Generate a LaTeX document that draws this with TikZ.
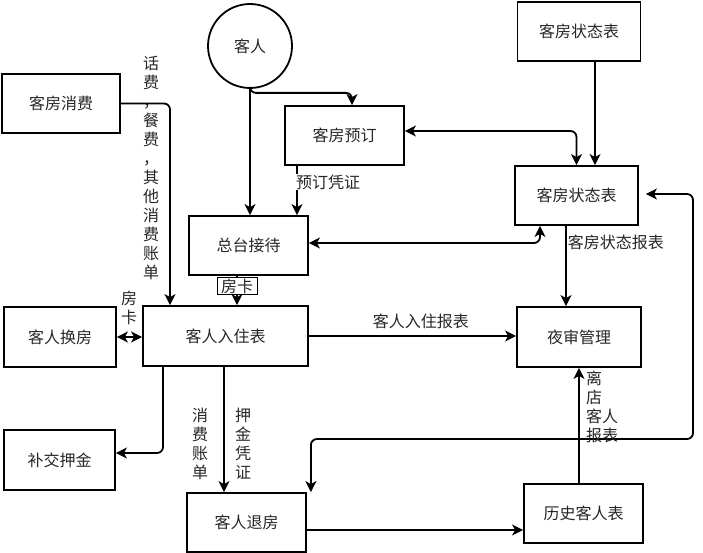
\documentclass[tikz,border=0pt]{standalone}
\usepackage{fontspec}
\newfontfamily\cjk{Noto Sans CJK SC}
\usetikzlibrary{shapes.geometric , arrows.meta}

\begin{document}
\begin{tikzpicture}[x = 1pt , y = -1pt ,
    >={Stealth[length = 11pt , width = 11pt , inset = 3pt]} ,
    every node/.style = {font = \cjk\fontsize{16}{19}\selectfont , text = black!85} ,
    box/.style = {draw , line width = 1.8pt , rectangle , minimum height = 59pt , inner sep = 0pt} ,
    flow/.style = {line width = 1.8pt , -> , rounded corners = 6pt} ,
    vlab/.style = {align = center , inner sep = 0pt}]
    \useasboundingbox (0,0) rectangle (703,553);
    % Knoten
    \node[draw , circle , line width = 1.8pt , minimum size = 84pt , inner sep = 0pt] (guest) at (250,46) {客人};
    \node[box , minimum width = 118pt] (xiaofei) at (61,103.5) {客房消费};
    \node[box , minimum width = 119pt] (yuding) at (344.5,135.5) {客房预订};
    \node[box , minimum width = 119pt] (zongtai) at (248.5,245.5) {总台接待};
    \node[box , minimum width = 123pt] (zhuangtai) at (579,31.5) {客房状态表};
    \node[box , minimum width = 123pt] (zhuangtaiB) at (576.5,195.5) {客房状态表};
    \node[box , minimum width = 165pt , minimum height = 60pt] (ruzhu) at (225.5,336) {客人入住表};
    \node[box , minimum width = 112pt , minimum height = 60pt] (huanfang) at (60,337) {客人换房};
    \node[box , minimum width = 111pt , minimum height = 60pt] (bujiao) at (59.5,460) {补交押金};
    \node[box , minimum width = 119pt] (tuifang) at (246.5,522.5) {客人退房};
    \node[box , minimum width = 124pt , minimum height = 60pt] (yeshen) at (579,337) {夜审管理};
    \node[box , minimum width = 119pt] (lishi) at (583.5,513.5) {历史客人表};
    \coordinate (loop) at (693,439); % Rueckweg rechts

    % Verbindungen
    \draw[flow] (guest.south) -- (guest.south |- zongtai.north);
    \draw[flow] (guest.south) -- ++(0,4) -| ([xshift = 7.5pt]yuding.north);
    \draw[flow] (xiaofei.east) -| ([xshift = -55.5pt]ruzhu.north);
    \node[vlab] (lbxf) at (151,168) {话\\费\\，\\餐\\费\\，\\其\\他\\消\\费\\账\\单};
    \draw[flow] ([xshift = -47.5pt]yuding.south) -- ([xshift = -47.5pt]yuding.south |- zongtai.north);
    \node[fill = white , anchor = west , inner sep = 1pt] (lbyd) at (295,182) {预订凭证};
    \draw[flow , <->] ([yshift = 4.5pt]yuding.east) -| (zhuangtaiB.north);
    \draw[flow] ([xshift = 16pt]zhuangtai.south) -- ([xshift = 16pt]zhuangtai.south |- zhuangtaiB.north);
    \draw[flow , <->] ([yshift = 2.5pt]zongtai.east) -| ([xshift = -36.5pt]zhuangtaiB.south);
    \draw[flow] ([xshift = -10.5pt]zhuangtaiB.south) -- ([xshift = -10.5pt]zhuangtaiB.south |- yeshen.north)
        node[pos = 0.2 , anchor = west , inner sep = 1pt] {客房状态报表};
    \draw[flow , <->] ([xshift = 4pt]tuifang.north east) |- (loop) |- ([xshift = 7pt , yshift = 1.5pt]zhuangtaiB.east);
    \draw[flow] (ruzhu.east) -- (ruzhu.east -| yeshen.west)
        node[pos = 0.54 , above = 3pt] {客人入住报表};
    \draw[flow , <->] (huanfang.east) -- (huanfang.east -| ruzhu.west);
    \node[vlab] (lbhf) at (129,307.5) {房\\卡};
    \draw[flow] ([xshift = -11.5pt]zongtai.south) -- ([xshift = -11.5pt]zongtai.south |- ruzhu.north)
        node[pos = 0.35 , draw , sharp corners , line width = 0.8pt , fill = white , inner xsep = 4pt , inner ysep = 1pt] {房卡};
    \draw[flow] ([xshift = -62.5pt]ruzhu.south) |- ([yshift = 7pt]bujiao.east);
    \draw[flow] ([xshift = -1.5pt]ruzhu.south) -- ([xshift = -1.5pt]ruzhu.south |- tuifang.north);
    \node[vlab] (lbzd) at (200,443.5) {消\\费\\账\\单};
    \node[vlab] (lbyj) at (243,443.5) {押\\金\\凭\\证};
    \draw[flow] ([yshift = -7.5pt]tuifang.east) -- ([yshift = -7.5pt]tuifang.east -| lishi.west);
    \draw[flow] ([xshift = -4.5pt]lishi.north) -- ([xshift = -4.5pt]lishi.north |- yeshen.south);
    \node[anchor = west , align = left , inner sep = 0pt] (lbls) at (586,407) {离\\店\\客人\\报表};
\end{tikzpicture}
\end{document}
